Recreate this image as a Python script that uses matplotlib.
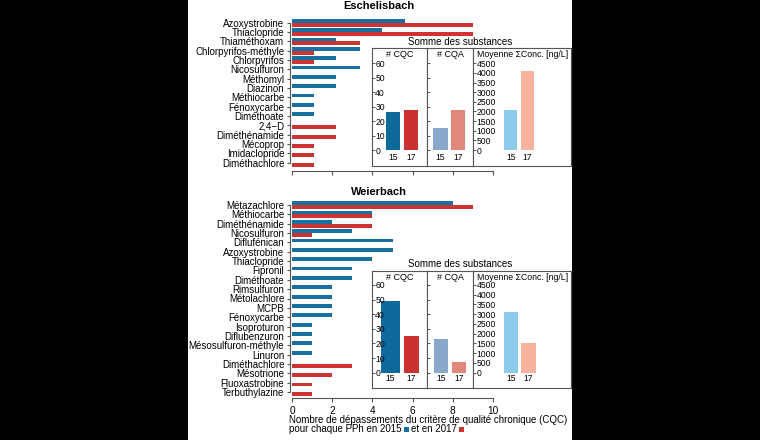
import numpy as np
import matplotlib
matplotlib.use("Agg")
import matplotlib.pyplot as plt
from matplotlib.patches import Rectangle
import matplotlib.transforms as mtransforms

plt.rcParams['font.family'] = ['Liberation Sans', 'DejaVu Sans']

# ---------------- data ----------------
esch_subst = ["Azoxystrobine", "Thiaclopride", "Thiaméthoxam", "Chlorpyrifos-méthyle",
              "Chlorpyrifos", "Nicosulfuron", "Méthomyl", "Diazinon", "Méthiocarbe",
              "Fénoxycarbe", "Diméthoate", "2,4\u2212D", "Diméthénamide", "Mécoprop",
              "Imidaclopride", "Diméthachlore"]
esch_2015 = [5.6, 4.5, 2.2, 3.4, 2.2, 3.4, 2.2, 2.2, 1.1, 1.1, 1.1, 0, 0, 0, 0, 0]
esch_2017 = [9.0, 9.0, 3.4, 1.1, 1.1, 0, 0, 0, 0, 0, 0, 2.2, 2.2, 1.1, 1.1, 1.1]

weier_subst = ["Métazachlore", "Méthiocarbe", "Diméthénamide", "Nicosulfuron", "Diflufénican",
               "Azoxystrobine", "Thiaclopride", "Fipronil", "Diméthoate", "Rimsulfuron",
               "Métolachlore", "MCPB", "Fénoxycarbe", "Isoproturon", "Diflubenzuron",
               "Mésosulfuron-méthyle", "Linuron", "Diméthachlore", "Mésotrione",
               "Fluoxastrobine", "Terbuthylazine"]
weier_2015 = [8, 4, 2, 3, 5, 5, 4, 3, 3, 2, 2, 2, 2, 1, 1, 1, 1, 0, 0, 0, 0]
weier_2017 = [9, 4, 4, 1, 0, 0, 0, 0, 0, 0, 0, 0, 0, 0, 0, 0, 0, 3, 2, 1, 1]

years = ["15", "17"]
esch_cqc = [26, 28]
esch_cqa = [15, 28]
esch_conc = [2100, 4100]
weier_cqc = [49, 25]
weier_cqa = [23, 7]
weier_conc = [3100, 1500]

panel_titles = ["# CQC", "# CQA", "Moyenne \u03a3Conc. [ng/L]"]
xticks_main = [0, 2, 4, 6, 8, 10]

# ---------------- styles ----------------
BLUE = '#17709f'
RED = '#cc3333'
CQC_C = ['#0d6a9a', '#c93230']
CQA_C = ['#8ba7c9', '#e2877c']
CONC_C = ['#8dcbea', '#f6b39e']
SPINE = '#555555'

W, H = 760, 440
fig = plt.figure(figsize=(W / 100, H / 100), dpi=100, facecolor='black')
fig.patches.append(Rectangle((188 / W, 0), (572 - 188) / W, 1, transform=fig.transFigure,
                             facecolor='white', edgecolor='none', zorder=-5))


def px_axes(x0, x1, y0, y1):
    return fig.add_axes([x0 / W, 1 - y1 / H, (x1 - x0) / W, (y1 - y0) / H])


def main_chart(y_top, y_bot, c0, sp, names, v15, v17, show_labels):
    ax = px_axes(292, 493, y_top, y_bot)
    n = len(names)
    pos = np.arange(n)
    h = 0.41
    ax.barh(pos - h / 2, v15, height=h, color=BLUE, edgecolor='none')
    ax.barh(pos + h / 2, v17, height=h, color=RED, edgecolor='none')
    ax.set_xlim(0, 10)
    ax.set_ylim((y_bot - c0) / sp, (y_top - c0) / sp)
    ax.patch.set_alpha(0)
    for s in ['top', 'right']:
        ax.spines[s].set_visible(False)
    ax.spines['left'].set_bounds(0, n - 1)
    ax.spines['left'].set_position(('outward', 1.5))
    ax.spines['bottom'].set_bounds(0, 10)
    for s in ['left', 'bottom']:
        ax.spines[s].set_color(SPINE)
        ax.spines[s].set_linewidth(0.8)
    ax.set_yticks(pos)
    ax.set_yticklabels(names, fontsize=7)
    ax.set_xticks(xticks_main)
    ax.tick_params(axis='y', length=2.5, width=0.8, color=SPINE, pad=1.5)
    ax.tick_params(axis='x', length=3, width=0.8, color=SPINE, pad=2.5,
                   labelbottom=show_labels, labelsize=7.3)
    return ax


def inset(y_top, y_bot, y0px, y60px, data, conc_top_px, xpos):
    bounds = [(371.7, 426.7), (426.7, 473.3), (473.3, 571)]
    cols = [CQC_C, CQA_C, CONC_C]
    axes = []
    for i, (x0, x1) in enumerate(bounds):
        ax = px_axes(x0, x1, y_top, y_bot)
        vmax = 60 if i < 2 else 4500
        scale = vmax / (y0px - y60px)
        ax.set_ylim(-(y_bot - y0px) * scale, vmax + (y60px - y_top) * scale)
        centers, widths = xpos[i]
        ax.bar(centers, data[i], width=widths, color=cols[i], edgecolor='none')
        ax.set_xlim(x0, x1)
        ax.set_xticks([])
        ticks = np.arange(0, vmax + 1, 10 if i < 2 else 500)
        ax.set_yticks(ticks)
        ax.tick_params(axis='y', direction='in', length=2, width=0.7, color=SPINE,
                       labelsize=6.2, pad=-2.5, labelleft=(i != 1))
        for lab in ax.get_yticklabels():
            lab.set_horizontalalignment('left')
        for s in ax.spines.values():
            s.set_color(SPINE)
            s.set_linewidth(0.8)
        trans = mtransforms.blended_transform_factory(ax.transData, ax.transAxes)
        for c, lab in zip(centers, years):
            ax.text(c, 0.075, lab, transform=trans, ha='center', va='center', fontsize=6.2)
        ax.text(0.5, 0.945, panel_titles[i], transform=ax.transAxes, ha='center',
                va='center', fontsize=6.5 if i < 2 else 6.3)
        axes.append(ax)
    fig.text(460 / W, 1 - conc_top_px / H, "Somme des substances", ha='center',
             va='center', fontsize=7)
    return axes


# ---------- Eschelisbach ----------
main_chart(12, 171, 22.7, 9.333, esch_subst, esch_2015, esch_2017, False)
fig.text(379 / W, 1 - 9.3 / H, "Eschelisbach", ha='center', va='baseline',
         fontsize=8, fontweight='bold')
inset(48.3, 166, 150, 63.3, [esch_cqc, esch_cqa, esch_conc], 42.3,
      [([393, 411], [14, 14]), ([440, 458], [15, 14]), ([510.7, 527.3], [13.3, 13.3])])

# ---------- Weierbach ----------
main_chart(198, 398, 205, 9.35, weier_subst, weier_2015, weier_2017, True)
fig.text(379 / W, 1 - 195 / H, "Weierbach", ha='center', va='baseline',
         fontsize=8, fontweight='bold')
inset(270.7, 387.7, 372.7, 285, [weier_cqc, weier_cqa, weier_conc], 264.3,
      [([390.3, 411.5], [19.3, 14.3]), ([441.3, 458.8], [14, 14.3]), ([511.3, 528.2], [14, 15])])

# ---------- x label ----------
BASE2 = 432
fig.text(289 / W, 1 - 422.5 / H,
         "Nombre de dépassements du critère de qualité chronique (CQC)",
         ha='left', va='baseline', fontsize=7)
t1 = fig.text(289 / W, 1 - BASE2 / H, "pour chaque PPh en 2015", ha='left',
              va='baseline', fontsize=7)
fig.canvas.draw()
r = fig.canvas.get_renderer()
SQ = 5.0
x_sq1 = t1.get_window_extent(r).x1 + 2.7
fig.patches.append(Rectangle((x_sq1 / W, 1 - BASE2 / H), SQ / W, SQ / H,
                             transform=fig.transFigure, facecolor=BLUE, edgecolor='none'))
t3 = fig.text((x_sq1 + SQ + 1.8) / W, 1 - BASE2 / H, "et en 2017", ha='left',
              va='baseline', fontsize=7)
fig.canvas.draw()
x_sq2 = t3.get_window_extent(r).x1 + 2.2
fig.patches.append(Rectangle((x_sq2 / W, 1 - BASE2 / H), SQ / W, SQ / H,
                             transform=fig.transFigure, facecolor=RED, edgecolor='none'))

fig.savefig("out.png", dpi=100, facecolor=fig.get_facecolor())
